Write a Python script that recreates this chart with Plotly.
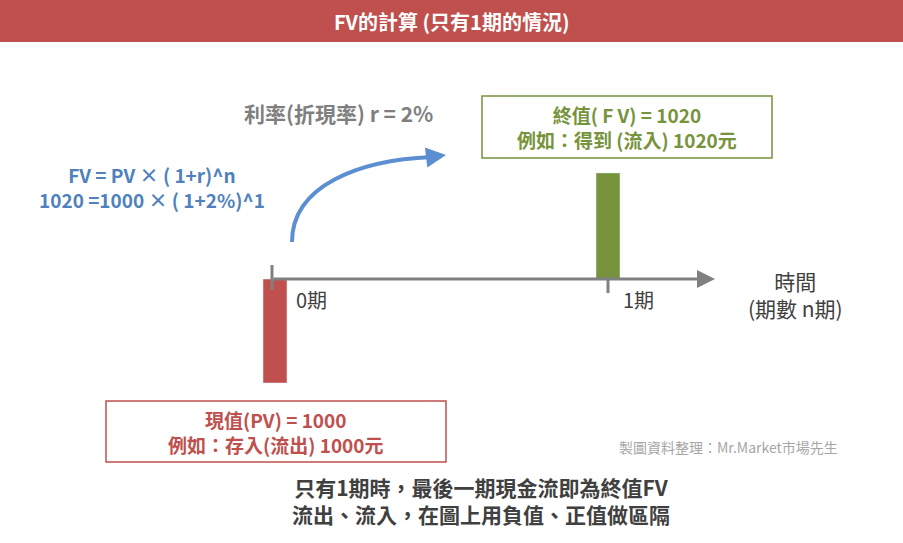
import plotly.graph_objects as go

W, H = 903, 543
periods = [0, 1]
cash_flows = [-1000, 1020]
bar_colors = ["#c0504d", "#77933c"]
tick_labels = ["0期", "1期"]


def px(x, y):
    return x / W, 1 - y / H


fig = go.Figure()
fig.add_trace(go.Bar(x=periods, y=cash_flows, width=0.072, marker_color=bar_colors,
                     showlegend=False, hoverinfo="skip"))

anns = []
shapes = []


def text(t, x, y, size, color, **kw):
    a = px(x, y)
    anns.append(dict(text=t, x=a[0], y=a[1], xref="paper", yref="paper", showarrow=False,
                     xanchor="center", yanchor="middle", font=dict(size=size, color=color), **kw))


# title bar
shapes.append(dict(type="rect", xref="paper", yref="paper", x0=0, x1=1,
                   y0=px(0, 42)[1], y1=1, fillcolor="#c0504d", line_width=0, layer="below"))
text("<b>FV的計算 (只有1期的情況)</b>", 451, 21, 20, "white")

# time axis arrow
hx, hy = px(715, 279)
anns.append(dict(x=hx, y=hy, xref="paper", yref="paper", ax=-443, ay=0, axref="pixel", ayref="pixel",
                 showarrow=True, arrowhead=2, arrowsize=1.2, arrowwidth=3, arrowcolor="#808080", text=""))
for x0, ya, yb in [(272, 265, 290), (608, 279, 293)]:
    a, b = px(x0, ya), px(x0, yb)
    shapes.append(dict(type="line", xref="paper", yref="paper", x0=a[0], x1=a[0], y0=a[1], y1=b[1],
                       line=dict(color="#808080", width=3)))
for p, lab, dx in zip(periods, tick_labels, [36, 30]):
    anns.append(dict(text=lab, x=p, y=0, xref="x", yref="y", xshift=dx, yshift=-20, showarrow=False,
                     xanchor="center", yanchor="middle", font=dict(size=20, color="#404040")))
text("時間<br>(期數 n期)", 795, 295, 21, "#404040")

# curved arrow
p0, c1, c2, p3 = px(292, 242), px(292, 185), px(360, 160), px(432, 157)
shapes.append(dict(type="path", xref="paper", yref="paper",
                   path=f"M {p0[0]},{p0[1]} C {c1[0]},{c1[1]} {c2[0]},{c2[1]} {p3[0]},{p3[1]}",
                   line=dict(color="#5b8fd1", width=4)))
hx, hy = px(446, 155)
anns.append(dict(x=hx, y=hy, xref="paper", yref="paper", ax=-16, ay=2, axref="pixel", ayref="pixel",
                 showarrow=True, arrowhead=2, arrowsize=1, arrowwidth=4, arrowcolor="#5b8fd1", text=""))

text("<b>利率(折現率) r = 2%</b>", 338, 113, 21, "#7f7f7f")
text("<b>FV = PV × ( 1+r)^n<br>1020 =1000 × ( 1+2%)^1</b>", 152, 187, 19, "#4f81bd")

# boxes
for (x0, y0, x1, y1), col, txt in [((482, 96, 772, 158), "#77933c", "<b>終值( F V) = 1020<br>例如：得到 (流入) 1020元</b>"),
                                    ((106, 401, 446, 462), "#c0504d", "<b>現值(PV) = 1000<br>例如：存入(流出) 1000元</b>")]:
    a, b = px(x0, y0), px(x1, y1)
    shapes.append(dict(type="rect", xref="paper", yref="paper", x0=a[0], x1=b[0], y0=b[1], y1=a[1],
                       line=dict(color=col, width=1.5), fillcolor="white"))
    text(txt, (x0 + x1) / 2, (y0 + y1) / 2, 19, col)

text("製圖資料整理：Mr.Market市場先生", 728, 447, 14, "#a6a6a6")
text("<b>只有1期時，最後一期現金流即為終值FV<br>流出、流入，在圖上用負值、正值做區隔</b>", 481, 500, 21, "#404040")

fig.update_layout(
    width=W, height=H, margin=dict(l=0, r=0, t=0, b=0),
    paper_bgcolor="white", plot_bgcolor="white",
    font=dict(family="Noto Sans CJK TC"),
    xaxis=dict(range=[-275 / 333, (W - 275) / 333], visible=False, fixedrange=True),
    yaxis=dict(range=[-(H - 279) / 0.104, 279 / 0.104], visible=False, fixedrange=True),
    shapes=shapes, annotations=anns,
)
fig.write_html("out.html", config={"displayModeBar": False},
               post_script="document.body.style.margin='0';")
